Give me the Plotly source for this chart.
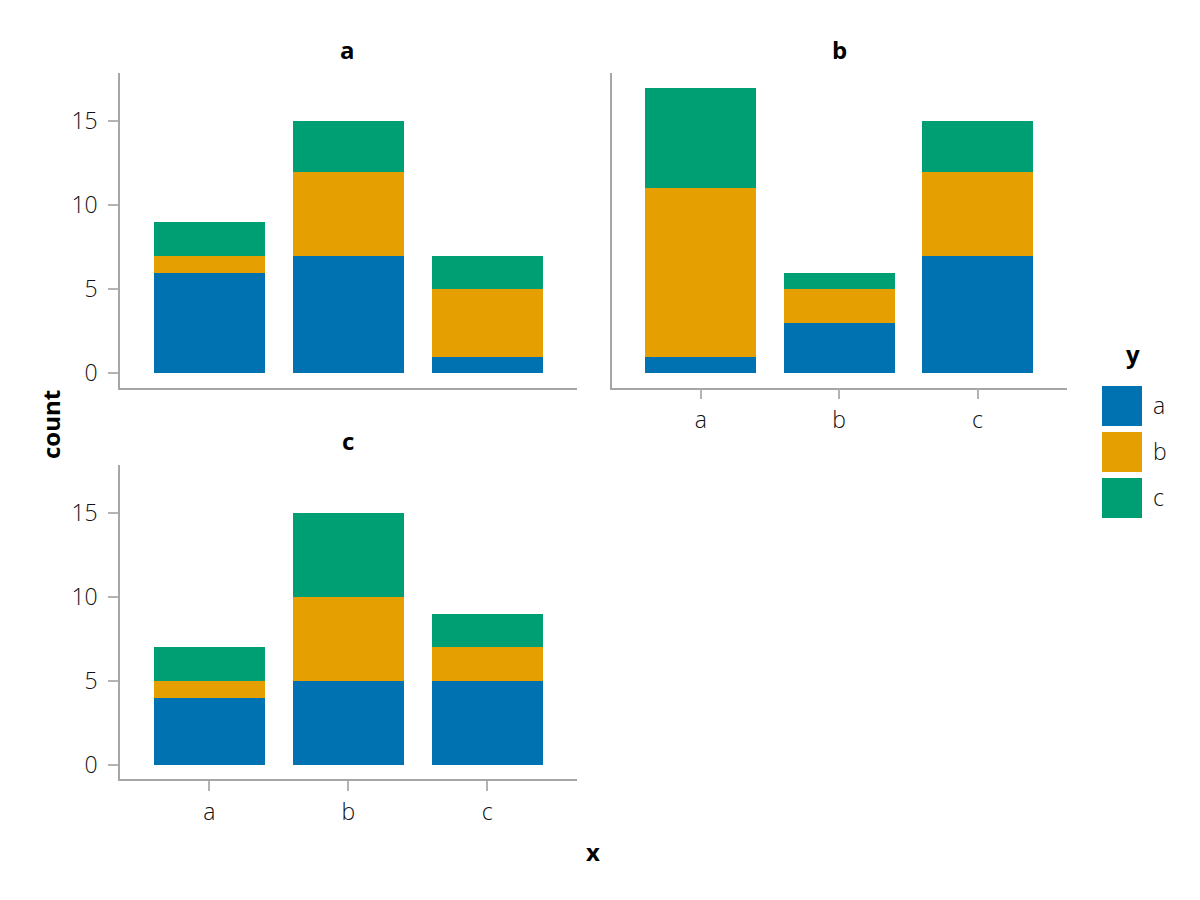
import plotly.graph_objects as go

# ---- data ----
categories = ["a", "b", "c"]
groups = ["a", "b", "c"]
facets = ["a", "b", "c"]

# facet a : stacked counts per x category, for each y group
fa_a = [6, 7, 1]
fa_b = [1, 5, 4]
fa_c = [2, 3, 2]
# facet b
fb_a = [1, 3, 7]
fb_b = [10, 2, 5]
fb_c = [6, 1, 3]
# facet c
fc_a = [4, 5, 5]
fc_b = [1, 5, 2]
fc_c = [2, 5, 2]

colors = ["#0072B2", "#E69F00", "#009E73"]
y_ticks = [0, 5, 10, 15]

FONT = "Open Sans"
W, H = 1200, 900
OFF = 8  # page body margin

facet_data = {
    "a": [fa_a, fa_b, fa_c],
    "b": [fb_a, fb_b, fb_c],
    "c": [fc_a, fc_b, fc_c],
}
axes_ids = {"a": ("x", "y"), "b": ("x2", "y2"), "c": ("x3", "y3")}

fig = go.Figure()
for f in facets:
    xa, ya = axes_ids[f]
    for g, vals, col in zip(groups, facet_data[f], colors):
        fig.add_trace(go.Bar(
            x=categories, y=vals, name=g, xaxis=xa, yaxis=ya,
            marker=dict(color=col, line=dict(width=0)),
            width=0.8, showlegend=False, legendgroup=g,
        ))

def px_x(p):
    return (p - OFF) / W

def px_y(p):
    return 1 - (p - OFF) / H

spine = "#a6a6a6"
tickc = "#b3b3b3"
tickfont = dict(family=FONT, size=23, color="#111111", weight=300)

xrange = [-0.644, 2.644]
yrange = [-0.85, 17.85]

left_dom = [px_x(120), px_x(576.7)]
right_dom = [px_x(611.7), px_x(1066.7)]
top_dom = [px_y(387.7), px_y(73.3)]
bot_dom = [px_y(779.4), px_y(465)]

def xax(domain, anchor, show_ticks):
    return dict(domain=domain, anchor=anchor, type="category", range=xrange,
                showgrid=False, zeroline=False, showline=True, linecolor=spine,
                linewidth=1.5, ticks="outside" if show_ticks else "",
                ticklen=10, tickwidth=1.5, tickcolor=tickc,
                showticklabels=show_ticks, tickfont=tickfont,
                ticklabelstandoff=1)

def yax(domain, anchor, show_ticks):
    return dict(domain=domain, anchor=anchor, range=yrange, tickvals=y_ticks,
                showgrid=False, zeroline=False, showline=True, linecolor=spine,
                linewidth=1.5, ticks="outside" if show_ticks else "",
                ticklen=10, tickwidth=1.5, tickcolor=tickc,
                showticklabels=show_ticks, tickfont=tickfont,
                ticklabelstandoff=6)

fig.update_layout(
    width=W, height=H, barmode="stack",
    margin=dict(l=0, r=0, t=0, b=0),
    paper_bgcolor="white", plot_bgcolor="white",
    showlegend=False,
    font=dict(family=FONT),
    xaxis=xax(left_dom, "y", False),
    yaxis=yax(top_dom, "x", True),
    xaxis2=xax(right_dom, "y2", True),
    yaxis2=yax(top_dom, "x2", False),
    xaxis3=xax(left_dom, "y3", True),
    yaxis3=yax(bot_dom, "x3", True),
)

bold = dict(family=FONT, size=24, color="#000000", weight=700)
ann = []
# facet titles
for f, cx, cy in [("a", 347.5, 49), ("b", 839, 49), ("c", 347.5, 441)]:
    ann.append(dict(text=f, x=px_x(cx), y=px_y(cy), xref="paper", yref="paper",
                    xanchor="center", yanchor="middle", showarrow=False, font=bold))
# axis labels
ann.append(dict(text="count", x=px_x(50), y=px_y(425), xref="paper", yref="paper",
                xanchor="center", yanchor="middle", showarrow=False, font=bold,
                textangle=-90))
ann.append(dict(text="x", x=px_x(593), y=px_y(851), xref="paper", yref="paper",
                xanchor="center", yanchor="middle", showarrow=False, font=bold))
# legend
ann.append(dict(text="y", x=px_x(1133), y=px_y(354), xref="paper", yref="paper",
                xanchor="center", yanchor="middle", showarrow=False, font=bold))
shapes = []
swatch_tops = [386, 432, 478]
for g, col, t in zip(groups, colors, swatch_tops):
    shapes.append(dict(type="rect", xref="paper", yref="paper",
                       x0=px_x(1102), x1=px_x(1142), y0=px_y(t + 40), y1=px_y(t),
                       fillcolor=col, line=dict(width=0)))
    ann.append(dict(text=g, x=px_x(1151), y=px_y(t + 19), xref="paper", yref="paper",
                    xanchor="left", yanchor="middle", showarrow=False, font=tickfont))

fig.update_layout(annotations=ann, shapes=shapes)
fig.write_html("out.html")
